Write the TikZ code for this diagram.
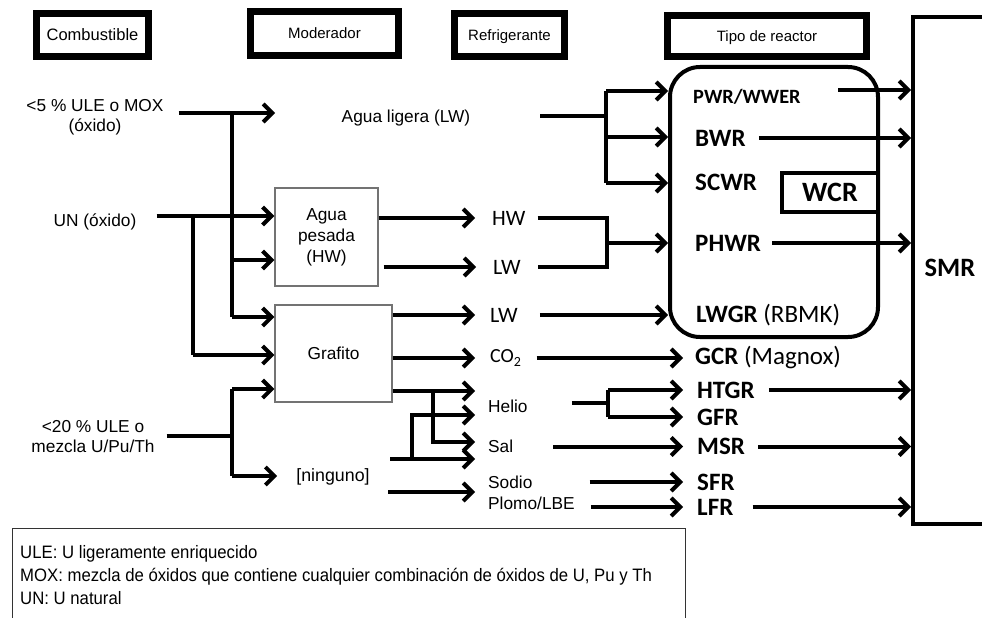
\documentclass[tikz,border=0pt]{standalone}
\usepackage{fontspec}
\setmainfont{Liberation Sans}
\newfontfamily\carlito{Carlito}
\newfontfamily\narrowsans[FakeStretch=0.93]{Liberation Sans}
\usetikzlibrary{arrows.meta,calc}

\tikzset{
  hdr/.style={draw, line width=7pt, inner sep=0pt, text depth=0pt, font=\fontsize{15}{18}\selectfont},
  modbox/.style={draw=black!55, line width=1.2pt, inner sep=0pt, align=center, font=\fontsize{17.3}{21}\selectfont},
  lbl/.style={inner sep=0pt, align=center, font=\fontsize{17.3}{20}\selectfont},
  clbl/.style={inner sep=0pt, anchor=west, font=\fontsize{17.3}{19}\selectfont},
  wlbl/.style={inner sep=0pt, anchor=west, font=\carlito\fontsize{22}{24}\selectfont},
  rlbl/.style={inner sep=0pt, anchor=west, font=\carlito\bfseries\fontsize{25}{28}\selectfont},
  ln/.style={line width=4pt},
  arr/.style={line width=4pt, -{Straight Barb[length=9pt,width=18pt]}},
}

\begin{document}
\begin{tikzpicture}[x=1pt,y=-1pt]
\useasboundingbox (0,0) rectangle (982,618);
\clip (0,0) rectangle (982,618);

% column headers
\node[hdr, minimum width=112pt, minimum height=43pt, font=\fontsize{16.5}{18}\selectfont] (comb) at (92.5,35) {Combustible};
\node[hdr, minimum width=148pt, minimum height=44pt] (mode) at (324.5,33.5) {Moderador};
\node[hdr, minimum width=110pt, minimum height=43pt] (refr) at (509.5,35) {Refrigerante};
\node[hdr, minimum width=199pt, minimum height=41pt] (tipo) at (767,36) {Tipo de reactor};

% fuels
\node[lbl] (f1) at (95,117) {<5 \% ULE o MOX\\(óxido)};
\node[lbl] (f2) at (95,222) {UN (óxido)};
\node[lbl] (f3) at (93,437) {<20 \% ULE o\\mezcla U/Pu/Th};

% moderators
\node[lbl] (lw) at (406,118) {Agua ligera (LW)};
\node[modbox, minimum width=103pt, minimum height=98pt] (hwbox) at (326.5,237) {Agua\\pesada\\(HW)};
\node[modbox, minimum width=117pt, minimum height=97pt] (graf) at (333.5,353.5) {Grafito};
\node[lbl, font=\fontsize{17.8}{20}\selectfont] (ning) at (333,477) {[ninguno]};

% coolants
\node[wlbl] (hw) at (492,218) {HW};
\node[wlbl] (lw2) at (493,267) {LW};
\node[wlbl] (lw3) at (490,315) {LW};
\node[wlbl, font=\carlito\fontsize{20}{22}\selectfont] (co2) at (490,358) {CO\textsubscript{2}};
\node[clbl] (helio) at (488,406) {Helio};
\node[clbl] (sal) at (488,446.5) {Sal};
\node[clbl] (sodio) at (488,482) {Sodio};
\node[clbl] (plomo) at (488,503) {Plomo/LBE};

% reactor types
\node[draw, line width=4pt, rounded corners=30pt, minimum width=208pt, minimum height=270pt] (reac) at (774,202) {};
\node[draw, line width=4pt, minimum width=96pt, minimum height=39pt, font=\carlito\bfseries\fontsize{28}{30}\selectfont] (wcr) at (830,192.5) {WCR};
\node[rlbl, font=\carlito\bfseries\fontsize{20.3}{22}\selectfont] (pwr) at (693,97) {PWR/WWER};
\node[rlbl] (bwr) at (695,138) {BWR};
\node[rlbl] (scwr) at (695,182) {SCWR};
\node[rlbl] (phwr) at (695,243) {PHWR};
\node[rlbl] (lwgr) at (696,315) {LWGR {\mdseries(RBMK)}};
\node[rlbl] (gcr) at (695,358) {GCR {\mdseries(Magnox)}};
\node[rlbl] (htgr) at (697,390) {HTGR};
\node[rlbl] (gfr) at (697,417) {GFR};
\node[rlbl] (msr) at (697,446.5) {MSR};
\node[rlbl] (sfr) at (697,482) {SFR};
\node[rlbl] (lfr) at (697,507) {LFR};

% SMR
\node[draw, line width=4pt, minimum width=200pt, minimum height=507pt, anchor=north west] (smr) at (911,15) {};
\node[font=\carlito\bfseries\fontsize{26.5}{28}\selectfont] (smrlbl) at (950,268) {SMR};

% legend
\node[draw=black!80, line width=1.2pt, minimum width=673pt, minimum height=120pt, anchor=north west] (leg) at (12,528) {};
\node[anchor=west, inner sep=0pt, align=left, font=\narrowsans\fontsize{18}{23}\selectfont] (legtxt) at (20,575)
  {ULE: U ligeramente enriquecido\\MOX: mezcla de óxidos que contiene cualquier combinación de óxidos de U, Pu y Th\\UN: U natural};

% fuel -> moderator
\coordinate (j1t) at (232,113);
\coordinate (j1a) at (232,260);
\coordinate (j1b) at (232,317);
\coordinate (lwin) at (275,113);
\coordinate (f1o) at ($(f1.east)+(15,0)$);
\draw[arr] (f1o |- j1t) -- (lwin);
\draw[ln] (j1t) -- (j1b);
\draw[arr] (j1a) -- (hwbox.west |- j1a);
\draw[arr] (j1b) -- (graf.west |- j1b);

\coordinate (j2t) at (193,216);
\coordinate (j2b) at (193,355);
\coordinate (f2o) at ($(f2.east)+(20,0)$);
\draw[arr] (f2o |- j2t) -- (hwbox.west |- j2t);
\draw[ln] (j2t) -- (j2b);
\draw[arr] (j2b) -- (graf.west |- j2b);

\coordinate (j3) at (232,436);
\coordinate (j3t) at (232,389);
\coordinate (j3b) at (232,476);
\coordinate (f3o) at ($(f3.east)+(12,0)$);
\draw[ln] (f3o |- j3) -- (j3);
\draw[ln] (j3t) -- (j3b);
\draw[arr] (j3t) -- (graf.west |- j3t);
\draw[arr, shorten >=19pt] (j3b) -- (ning.west |- j3b);

% moderator -> coolant
\draw[arr, shorten >=17pt] (hwbox.east |- hw) -- (hw.west);
\draw[arr, shorten >=17pt] ([xshift=5pt]hwbox.east |- lw2) -- (lw2.west);
\draw[arr, shorten >=15pt] (graf.east |- lw3) -- (lw3.west);
\draw[arr, shorten >=15pt] (graf.east |- co2) -- (co2.west);

\coordinate (gh) at (475,391);
\coordinate (gj) at (433,391);
\coordinate (gs) at (475,442);
\draw[arr] (graf.east |- gh) -- (gh);
\draw[arr] (gj) |- (gs);

\coordinate (nf) at (390,459);
\coordinate (nj) at (412,459);
\coordinate (ns) at (475,459);
\coordinate (nh) at (475,415);
\draw[arr] (nf) -- (ns);
\draw[arr] (nj) |- (nh);
\coordinate (nd) at (388,492);
\coordinate (nde) at (475,492);
\draw[arr] (nd) -- (nde);

% coolant -> reactor
\coordinate (lwo) at ($(lw.east)+(70,0)$);
\coordinate (lwt) at (606,91);
\coordinate (lwm) at (606,137);
\coordinate (lwb) at (606,183);
\draw[ln] (lwo |- 0,116) -- (lwt |- 0,116);
\draw[ln] (lwt) -- (lwb);
\draw[arr] (lwt) -- (reac.west |- lwt);
\draw[arr] (lwm) -- (reac.west |- lwm);
\draw[arr] (lwb) -- (reac.west |- lwb);

\coordinate (hj) at (607,243);
\draw[ln] ($(hw.east)+(12,0)$) -| (hj) |- ($(lw2.east)+(17,0)$);
\draw[arr] (hj) -- (reac.west |- hj);
\draw[arr] ($(lw3.east)+(22,0)$) -- (reac.west |- lw3);
\draw[arr, shorten >=12pt] ($(co2.east)+(15,0)$) -- (gcr.west);

\coordinate (hej) at (608,403);
\draw[ln] ($(helio.east)+(44,-3)$) -- (hej);
\draw[ln] (hej |- htgr) -- (hej |- gfr);
\draw[arr, shorten >=14pt] (hej |- htgr) -- (htgr.west);
\draw[arr, shorten >=14pt] (hej |- gfr) -- (gfr.west);
\draw[arr, shorten >=14pt] ($(sal.east)+(40,0)$) -- (msr.west);
\draw[arr, shorten >=14pt] ($(sodio.east)+(57,0)$) -- (sfr.west);
\draw[arr, shorten >=14pt] ($(plomo.east)+(16,4)$) -- (lfr.west);

% reactor -> SMR
\coordinate (pwro) at (838,90);
\draw[arr] (pwro) -- (smr.west |- pwro);
\draw[arr] ($(bwr.east)+(13,0)$) -- (smr.west |- bwr);
\draw[arr] ($(phwr.east)+(11,0)$) -- (smr.west |- phwr);
\draw[arr] ($(htgr.east)+(14,0)$) -- (smr.west |- htgr);
\draw[arr] ($(msr.east)+(13,0)$) -- (smr.west |- msr);
\draw[arr] ($(lfr.east)+(19,0)$) -- (smr.west |- lfr);
\end{tikzpicture}
\end{document}
